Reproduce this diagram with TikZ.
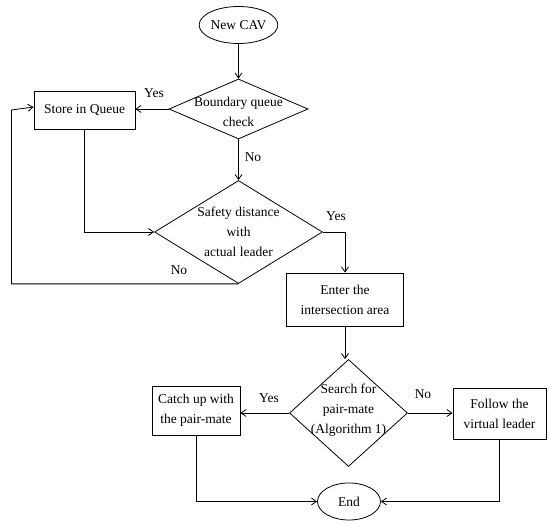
\documentclass[tikz,border=0pt]{standalone}
\usepackage{fontspec}
\setmainfont{Liberation Serif}
\usepackage{tikz}
\usetikzlibrary{shapes.geometric,arrows.meta}

\begin{document}
\begin{tikzpicture}[x=1pt,y=-1pt,
              every node/.style={font=\fontsize{13.5}{20}\selectfont},
              box/.style={draw,line width=0.8pt,inner sep=0pt,align=center},
              terminal/.style={draw,ellipse,line width=0.8pt,inner sep=0pt},
              decision/.style={draw,diamond,line width=0.8pt,inner sep=0pt},
              conn/.style={line width=0.8pt,-{Straight Barb[length=5pt,width=7pt]}}]
              \useasboundingbox (0,0) rectangle (550,524);
              % nodes
              \node[terminal,minimum width=65,minimum height=37] (CAV) at (238.5,25) {New CAV};
              \node[decision,minimum width=139,minimum height=60,
                label={[align=center,yshift=-3pt]center:Boundary queue\\check}] (Boundary) at (238.5,109) {};
              \node[box,minimum width=101,minimum height=38] (Store) at (84.5,110) {Store in Queue};
              \node[decision,minimum width=168,minimum height=103,
                label={[align=center]center:Safety distance\\with\\actual leader}] (Safety) at (238.5,232) {};
              \node[box,minimum width=117,minimum height=53] (Enter) at (345,299.5) {Enter the\\intersection area};
              \node[decision,minimum width=118,minimum height=107,
                label={[align=center,yshift=3pt]center:Search for\\pair-mate\\(Algorithm 1)}] (Search) at (348.5,413) {};
              \node[box,minimum width=88,minimum height=49] (Catch) at (196,410.5) {Catch up with\\the pair-mate};
              \node[box,minimum width=93,minimum height=51] (Follow) at (499.5,413.5) {Follow the\\virtual leader};
              \node[terminal,minimum width=63,minimum height=37] (End) at (349,501.5) {End};
              \coordinate (LoopX) at (11.5,0);
              % labels
              \node (Yes1) at (154,93) {Yes};
              \node (No1) at (253,157) {No};
              \node (Yes2) at (336,216) {Yes};
              \node (No2) at (179,270) {No};
              \node (Yes3) at (269,398) {Yes};
              \node (No3) at (423,394) {No};
              % connectors
              \draw[conn] (CAV) -- (Boundary);
              \draw[conn] (Boundary.west) -- (Boundary.west -| Store.east);
              \draw[conn] (Boundary.south) -- (Safety.north);
              \draw[conn] (Store.south) |- (Safety.west);
              \draw[conn] (Safety.east) -| (Enter.north);
              \draw[conn] (Safety.south) -| (LoopX |- Store.west) -- ([yshift=3pt]Store.west);
              \draw[conn] (Enter.south) -- (Enter.south |- Search.north);
              \draw[conn] (Search.west) -- (Search.west -| Catch.east);
              \draw[conn] (Search.east) -- (Search.east -| Follow.west);
              \draw[conn] (Catch.south) |- (End.west);
              \draw[conn] (Follow.south) |- (End.east);
            \end{tikzpicture}
\end{document}
